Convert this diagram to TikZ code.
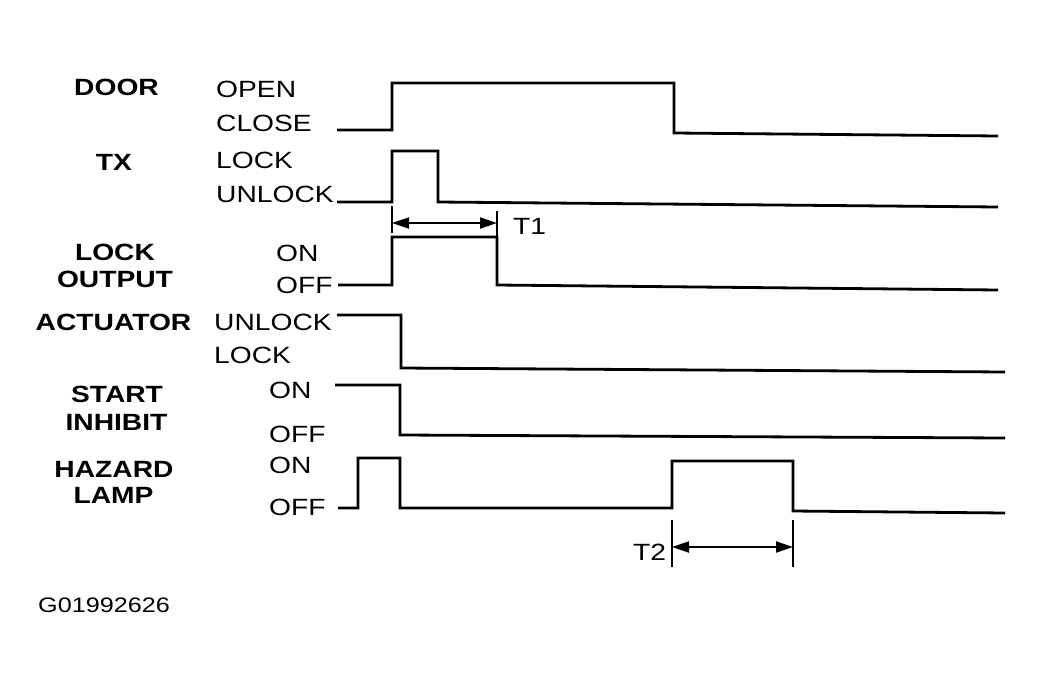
\documentclass[tikz,border=0pt]{standalone}
\usepackage{fontspec}
\setmainfont[FakeStretch=1.2]{Liberation Sans}
\usetikzlibrary{arrows.meta}
\begin{document}
\begin{tikzpicture}[x=1pt,y=-1pt,
  wave/.style={line width=2.8pt, line join=miter},
  tick/.style={line width=1.2pt},
  dim/.style={line width=2pt, {Triangle[length=17pt,width=11pt]}-{Triangle[length=17pt,width=11pt]}},
  state/.style={anchor=base west, inner sep=0pt, font=\fontsize{23.5}{23.5}\selectfont},
  sig/.style={anchor=base, inner sep=0pt, font=\bfseries\fontsize{23.5}{23.5}\selectfont},
  code/.style={anchor=base west, inner sep=0pt, font=\fontsize{21}{21}\selectfont}]
\useasboundingbox (0,0) rectangle (1044,688);
\fill[white] (0,0) rectangle (1044,688);

% signal names
\node[sig] (ndoor) at (116.5,95) {DOOR};
\node[sig] (ntx) at (114,170) {TX};
\node[sig] (nlock) at (115,260) {LOCK};
\node[sig] (nout) at (115,287) {OUTPUT};
\node[sig] (nact) at (113.5,330) {ACTUATOR};
\node[sig] (nstart) at (117,402) {START};
\node[sig] (ninh) at (116.5,430) {INHIBIT};
\node[sig] (nhaz) at (114,477) {HAZARD};
\node[sig] (nlamp) at (113.5,503) {LAMP};

% state labels
\node[state] (sopen) at (216,97) {OPEN};
\node[state] (sclose) at (216,131) {CLOSE};
\node[state] (stxl) at (216,168) {LOCK};
\node[state] (stxu) at (216,202) {UNLOCK};
\node[state] (slon) at (276,261) {ON};
\node[state] (sloff) at (276,293) {OFF};
\node[state] (sau) at (214,330) {UNLOCK};
\node[state] (sal) at (214,363) {LOCK};
\node[state] (sson) at (269,398) {ON};
\node[state] (ssoff) at (269,442) {OFF};
\node[state] (shon) at (269,473) {ON};
\node[state] (shoff) at (269,515) {OFF};

% waveforms
\draw[wave] (337,130) -- (392,130) -- (392,83) -- (674,83) -- (674,133) -- (998,136);
\draw[wave] (337,202) -- (392,202) -- (392,151) -- (438,151) -- (438,202) -- (998,207);
\draw[wave] (338,285) -- (392,285) -- (392,237) -- (497,237) -- (497,285) -- (998,290);
\draw[wave] (337,315) -- (401,315) -- (401,368) -- (1005,372);
\draw[wave] (335,385) -- (400,385) -- (400,435) -- (1005,438);
\draw[wave] (338,508) -- (358,508) -- (358,458) -- (400,458) -- (400,508) -- (672,508)
  -- (672,461) -- (793,461) -- (793,511) -- (1005,513);

% T1
\coordinate (t1a) at (392,223);
\coordinate (t1b) at (497,223);
\draw[tick] (392,206) -- (392,233);
\draw[tick] (497,211) -- (497,240);
\draw[dim] (t1a) -- (t1b);
\node[state] (lt1) at (513,234) {T1};

% T2
\coordinate (t2a) at (672,547);
\coordinate (t2b) at (793,547);
\draw[tick] (672,520) -- (672,567);
\draw[tick] (793,520) -- (793,567);
\draw[dim] (t2a) -- (t2b);
\node[state] (lt2) at (633,560) {T2};

\node[code] (gcode) at (38,612) {G01992626};
\end{tikzpicture}
\end{document}
